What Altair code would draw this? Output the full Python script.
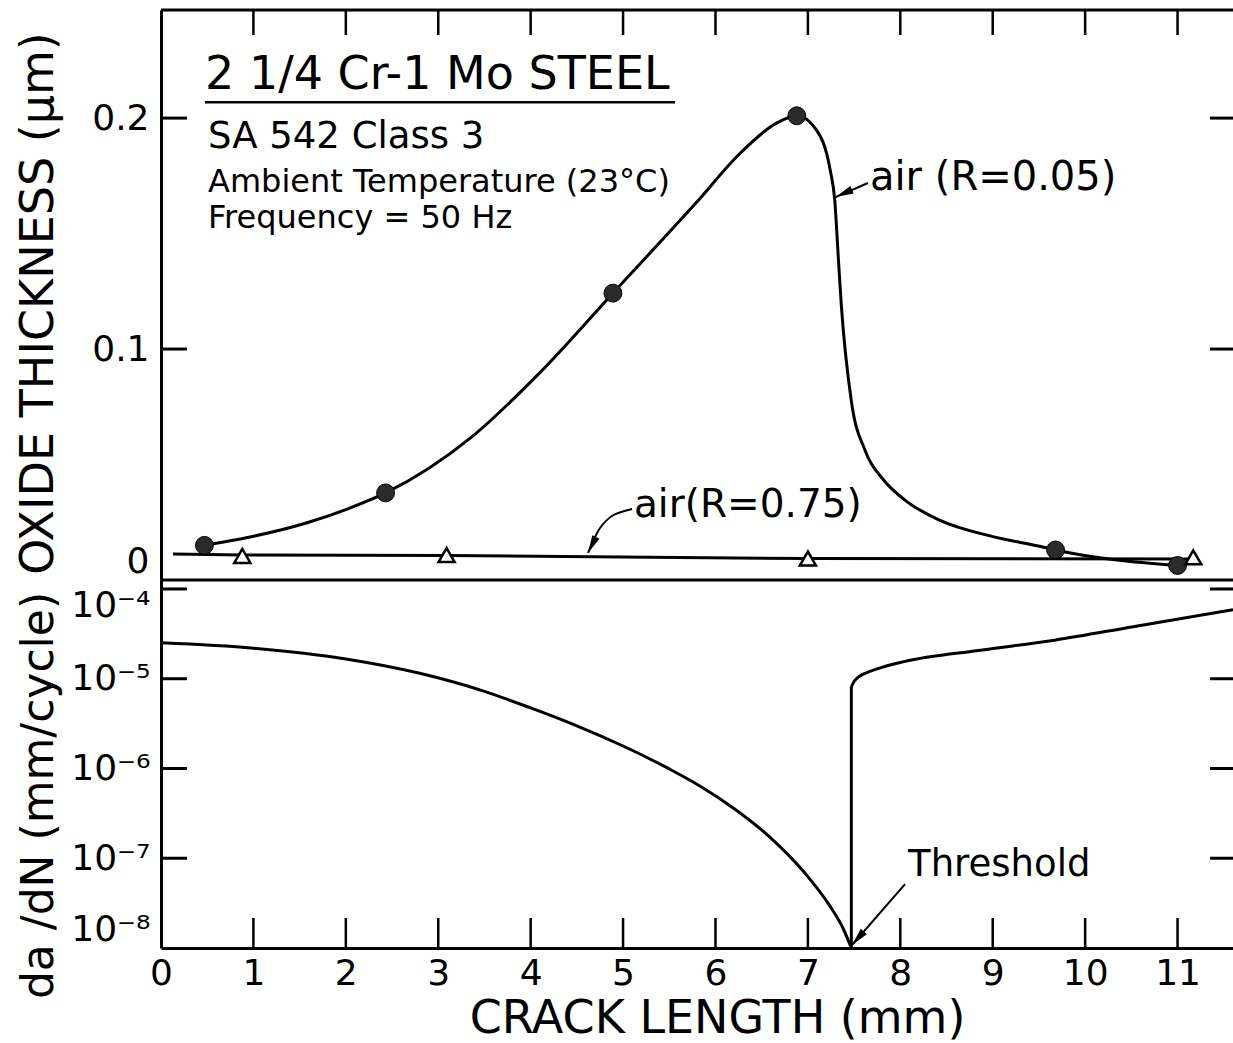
import altair as alt
import pandas as pd

FONT = "DejaVu Sans"

# ---------------- data ----------------
# Upper panel: oxide thickness (um) versus crack length (mm)
r05_curve_x = [0.47, 0.95, 1.58, 2.00, 2.43, 3.37, 4.10, 4.89, 5.79, 6.27, 6.66, 6.88, 7.09,
               7.24, 7.29, 7.33, 7.36, 7.47, 7.62, 7.82, 8.05, 8.43, 8.98, 9.52, 9.68, 11.00]
r05_curve_y = [0.0150, 0.0185, 0.0248, 0.0305, 0.0377, 0.0622, 0.0898, 0.1242, 0.1633, 0.1849,
               0.1978, 0.2010, 0.1950, 0.1777, 0.1647, 0.1390, 0.1199, 0.0775, 0.0560, 0.0433,
               0.0346, 0.0258, 0.0190, 0.0145, 0.0130, 0.0063]
r05_pts_x = [0.47, 2.43, 4.89, 6.88, 9.68, 11.00]
r05_pts_y = [0.0150, 0.0377, 0.1242, 0.2010, 0.0130, 0.0063]
r75_line_x = [0.13, 0.88, 3.09, 7.00, 11.17]
r75_line_y = [0.0113, 0.0108, 0.0106, 0.0093, 0.0091]
r75_pts_x = [0.88, 3.09, 7.00, 11.17]
r75_pts_y = [0.0104, 0.0108, 0.0093, 0.0098]

# Lower panel: da/dN (mm/cycle) versus crack length (mm)
# branch below threshold
dadn_left_x = [0.00, 1.00, 2.00, 2.80, 3.50, 4.00, 4.50, 5.00, 5.50, 5.84, 6.20, 6.57, 6.97,
               7.23, 7.38, 7.47]
dadn_left_y = [2.51e-5, 2.19e-5, 1.66e-5, 1.15e-5, 7.24e-6, 4.73e-6, 2.99e-6, 1.78e-6, 9.89e-7,
               6.31e-7, 3.59e-7, 1.79e-7, 6.79e-8, 3.02e-8, 1.66e-8, 1.0e-8]
# jump at the threshold
dadn_jump_x = [7.47, 7.47]
dadn_jump_y = [1.0e-8, 8.13e-6]
# branch above threshold
dadn_right_x = [7.47, 7.50, 7.55, 7.62, 7.75, 8.04, 8.89, 9.67, 10.52, 11.60]
dadn_right_y = [8.13e-6, 9.33e-6, 1.05e-5, 1.15e-5, 1.29e-5, 1.55e-5, 2.09e-5, 2.69e-5,
                3.80e-5, 5.89e-5]

# ticks
x_label_vals = list(range(12))
x_tick_marks = list(range(1, 12))
oxide_label_vals = [0, 0.1, 0.2]
oxide_tick_marks = [0.1, 0.2]
dadn_label_vals = [1e-8, 1e-7, 1e-6, 1e-5, 1e-4]
dadn_tick_marks = [1e-7, 1e-6, 1e-5, 1e-4]

# annotations
note_text = ["2 1/4 Cr-1 Mo STEEL", "SA 542 Class 3",
             "Ambient Temperature (23°C)", "Frequency = 50 Hz"]
note_x = [0.476, 0.509, 0.509, 0.509]
note_y = [0.2126, 0.1870, 0.1680, 0.1524]
underline_x = [0.476]
underline_x2 = [5.562]
underline_y = [0.2069]

lab05_text, lab05_x, lab05_y = ["air (R=0.05)"], [7.672], [0.1688]
lab75_text, lab75_x, lab75_y = ["air(R=0.75)"], [5.118], [0.0273]
thr_text, thr_x, thr_y = ["Threshold"], [8.084], [6.35e-8]

arrow05_x = [7.65, 7.30]
arrow05_y = [0.1719, 0.1658]
arrow75_x = [5.097, 4.880, 4.751, 4.653, 4.621]
arrow75_y = [0.0307, 0.0277, 0.0225, 0.0147, 0.0117]
arrowthr_x = [8.051, 7.478]
arrowthr_y = [5.16e-8, 1.08e-8]

# ---------------- layout ----------------
W, H, YSPLIT = 1072, 938, 570
XMAX = 11.6
TOP_MAX = 0.2468
LOG_TOP = 10 ** -3.9

x_scale = alt.Scale(domain=[0, XMAX], nice=False, zero=False)
x_axis = alt.Axis(values=x_label_vals, format="d", ticks=False, grid=False,
                  domainWidth=3, domainColor="black",
                  labelFont=FONT, labelFontSize=36, labelColor="black",
                  labelPadding=8, labelFlush=False, labelOverlap=False,
                  title="CRACK LENGTH (mm)", titleFont=FONT, titleFontSize=46,
                  titleFontWeight="normal", titleColor="black",
                  titleX=556, titleY=84, titleAlign="center", titleBaseline="alphabetic")

ytop_scale = alt.Scale(domain=[0, TOP_MAX], range=[YSPLIT, 0], nice=False, zero=False)
ytop_axis = alt.Axis(orient="left", values=oxide_label_vals, format="~g", ticks=False,
                     grid=False, domainWidth=3, domainColor="black",
                     labelFont=FONT, labelFontSize=36, labelColor="black",
                     labelPadding=12, labelFlush=5, labelOverlap=False,
                     title="OXIDE THICKNESS (μm)", titleFont=FONT, titleFontSize=46,
                     titleFontWeight="normal", titleColor="black",
                     titleX=-109, titleY=293, titleAngle=270, titleAlign="center",
                     titleBaseline="alphabetic")

ybot_scale = alt.Scale(type="log", domain=[1e-8, LOG_TOP], range=[H, YSPLIT], nice=False)
ybot_axis = alt.Axis(orient="left", values=dadn_label_vals, ticks=False, grid=False,
                     labelExpr="'10⁻' + ['⁸','⁷','⁶','⁵','⁴'][round(log(datum.value) / LN10) + 8]",
                     domainWidth=3, domainColor="black",
                     labelFont=FONT, labelFontSize=36, labelColor="black",
                     labelPadding=11, labelFlush=12, labelOverlap=False,
                     title="da /dN (mm/cycle)", titleFont=FONT, titleFontSize=44,
                     titleFontWeight="normal", titleColor="black",
                     titleX=-109, titleY=785, titleAngle=270, titleAlign="center",
                     titleBaseline="alphabetic")


def xenc(field="x"):
    return alt.X(f"{field}:Q", scale=x_scale, axis=x_axis)


def ytop(field="y"):
    return alt.Y(f"{field}:Q", scale=ytop_scale, axis=ytop_axis)


def ybot(field="y"):
    return alt.Y(f"{field}:Q", scale=ybot_scale, axis=ybot_axis)


def df(**kw):
    return pd.DataFrame(kw)


# ---------------- upper panel ----------------
curve05 = alt.Chart(df(x=r05_curve_x, y=r05_curve_y)).mark_line(
    color="black", strokeWidth=3, interpolate="monotone").encode(x=xenc(), y=ytop())
line75 = alt.Chart(df(x=r75_line_x, y=r75_line_y)).mark_line(
    color="black", strokeWidth=3).encode(x=xenc(), y=ytop())
circles = alt.Chart(df(x=r05_pts_x, y=r05_pts_y)).mark_point(
    shape="circle", filled=True, size=320, fill="#2b2b2b", stroke="black",
    strokeWidth=1, opacity=1).encode(x=xenc(), y=ytop())
triangles = alt.Chart(df(x=r75_pts_x, y=r75_pts_y)).mark_point(
    shape="triangle-up", filled=True, fill="white", stroke="black", strokeWidth=2.5,
    size=260, opacity=1).encode(x=xenc(), y=ytop())

top_border = alt.Chart(df(y=[TOP_MAX])).mark_rule(color="black", strokeWidth=3).encode(
    y=ytop(), x=alt.value(0), x2=alt.value(W))
mid_border = alt.Chart(df(y=[0.0])).mark_rule(color="black", strokeWidth=3).encode(
    y=ytop(), x=alt.value(0), x2=alt.value(W))
left_ticks_top = alt.Chart(df(y=oxide_tick_marks)).mark_rule(color="black", strokeWidth=3).encode(
    y=ytop(), x=alt.value(0), x2=alt.value(26))
right_ticks_top = alt.Chart(df(y=oxide_tick_marks)).mark_rule(color="black", strokeWidth=3).encode(
    y=ytop(), x=alt.value(W - 23), x2=alt.value(W))
top_xticks = alt.Chart(df(x=x_tick_marks)).mark_rule(color="black", strokeWidth=2.5).encode(
    x=xenc(), y=alt.value(0), y2=alt.value(25))
bottom_xticks = alt.Chart(df(x=x_tick_marks)).mark_rule(color="black", strokeWidth=2.5).encode(
    x=xenc(), y=alt.value(H - 30), y2=alt.value(H))

note_sizes = [46, 37, 32, 32]
notes = []
for i, fs in enumerate(note_sizes):
    notes.append(alt.Chart(df(x=[note_x[i]], y=[note_y[i]], t=[note_text[i]])).mark_text(
        align="left", baseline="alphabetic", font=FONT, fontSize=fs, color="black").encode(
        x=xenc(), y=ytop(), text="t:N"))
underline = alt.Chart(df(x=underline_x, x2=underline_x2, y=underline_y)).mark_rule(
    color="black", strokeWidth=2.5).encode(x=xenc(), x2="x2:Q", y=ytop())

lab05 = alt.Chart(df(x=lab05_x, y=lab05_y, t=lab05_text)).mark_text(
    align="left", baseline="alphabetic", font=FONT, fontSize=40, color="black").encode(
    x=xenc(), y=ytop(), text="t:N")
lab75 = alt.Chart(df(x=lab75_x, y=lab75_y, t=lab75_text)).mark_text(
    align="left", baseline="alphabetic", font=FONT, fontSize=39, color="black").encode(
    x=xenc(), y=ytop(), text="t:N")

ARROW = "M0,0L0.45,2L-0.45,2Z"
shaft05 = alt.Chart(df(x=arrow05_x, y=arrow05_y, i=list(range(len(arrow05_x))))).mark_line(
    color="black", strokeWidth=2).encode(x=xenc(), y=ytop(), order="i:Q")
head05 = alt.Chart(df(x=arrow05_x[-1:], y=arrow05_y[-1:])).mark_point(
    shape=ARROW, filled=True, color="black", size=320, angle=246, opacity=1).encode(
    x=xenc(), y=ytop())
shaft75 = alt.Chart(df(x=arrow75_x, y=arrow75_y, i=list(range(len(arrow75_x))))).mark_line(
    color="black", strokeWidth=2, interpolate="catmull-rom").encode(x=xenc(), y=ytop(), order="i:Q")
head75 = alt.Chart(df(x=arrow75_x[-1:], y=arrow75_y[-1:])).mark_point(
    shape=ARROW, filled=True, color="black", size=320, angle=206, opacity=1).encode(
    x=xenc(), y=ytop())

top = alt.layer(top_border, mid_border, left_ticks_top, right_ticks_top, top_xticks,
                bottom_xticks, line75, curve05, circles, triangles, underline, *notes,
                lab05, lab75, shaft05, head05, shaft75, head75)

# ---------------- lower panel ----------------
dadn_left = alt.Chart(df(x=dadn_left_x, y=dadn_left_y)).mark_line(
    color="black", strokeWidth=3, interpolate="monotone").encode(x=xenc(), y=ybot())
dadn_jump = alt.Chart(df(x=dadn_jump_x, y=dadn_jump_y, i=[0, 1])).mark_line(
    color="black", strokeWidth=3).encode(x=xenc(), y=ybot(), order="i:Q")
dadn_right = alt.Chart(df(x=dadn_right_x, y=dadn_right_y)).mark_line(
    color="black", strokeWidth=3, interpolate="monotone").encode(x=xenc(), y=ybot())
left_ticks_bot = alt.Chart(df(y=dadn_tick_marks)).mark_rule(color="black", strokeWidth=3).encode(
    y=ybot(), x=alt.value(0), x2=alt.value(26))
right_ticks_bot = alt.Chart(df(y=dadn_tick_marks)).mark_rule(color="black", strokeWidth=3).encode(
    y=ybot(), x=alt.value(W - 23), x2=alt.value(W))
thr = alt.Chart(df(x=thr_x, y=thr_y, t=thr_text)).mark_text(
    align="left", baseline="alphabetic", font=FONT, fontSize=37, color="black").encode(
    x=xenc(), y=ybot(), text="t:N")
shaftthr = alt.Chart(df(x=arrowthr_x, y=arrowthr_y, i=list(range(len(arrowthr_x))))).mark_line(
    color="black", strokeWidth=2).encode(x=xenc(), y=ybot(), order="i:Q")
headthr = alt.Chart(df(x=arrowthr_x[-1:], y=arrowthr_y[-1:])).mark_point(
    shape=ARROW, filled=True, color="black", size=320, angle=221, opacity=1).encode(
    x=xenc(), y=ybot())

bottom = alt.layer(left_ticks_bot, right_ticks_bot, dadn_left, dadn_jump, dadn_right,
                   thr, shaftthr, headthr)

chart = alt.layer(top, bottom).resolve_scale(y="independent").properties(
    width=W, height=H,
    autosize=alt.AutoSizeParams(type="none"),
    padding={"left": 161, "top": 10, "right": 0, "bottom": 95},
).configure(background="white", font=FONT).configure_view(stroke=None)

chart.save("out.html", embed_options={"renderer": "svg", "actions": False})
